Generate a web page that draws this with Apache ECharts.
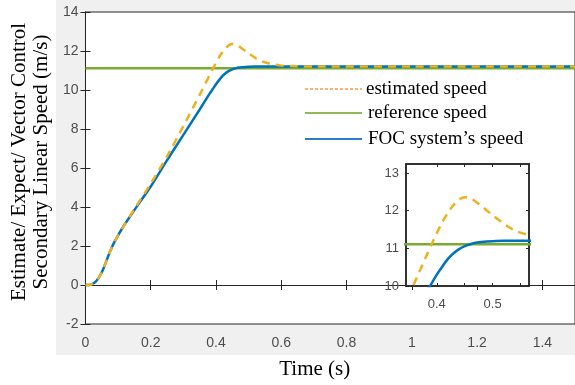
<!DOCTYPE html>
<html><head><meta charset="utf-8">
<script src="https://cdn.jsdelivr.net/npm/echarts@6/dist/echarts.min.js"></script>
<style>html,body{margin:0;padding:0;background:#fff}#c{width:575px;height:385px}</style>
</head><body><div id="c"></div>
<script>
const time = [0,0.01,0.02,0.03,0.04,0.05,0.06,0.07,0.08,0.09,0.10,0.12,0.15,0.20,0.25,0.30,0.35,0.38,0.39,0.40,0.41,0.42,0.43,0.44,0.45,0.46,0.47,0.48,0.50,0.52,0.54,0.56,0.58,0.60,0.65,0.70,1.00,1.50];
const focSpeed = [0,0,0.04,0.15,0.35,0.65,1.05,1.5,1.9,2.25,2.55,3.1,3.85,5.05,6.4,7.7,9.0,9.8,10.05,10.3,10.52,10.72,10.87,10.98,11.06,11.11,11.15,11.17,11.19,11.2,11.2,11.2,11.2,11.2,11.2,11.2,11.2,11.2];
const estSpeed = [0,0,0.04,0.15,0.35,0.65,1.05,1.5,1.9,2.25,2.55,3.1,3.9,5.2,6.6,8.15,9.75,10.75,11.08,11.4,11.7,11.95,12.15,12.3,12.36,12.33,12.24,12.12,11.88,11.65,11.47,11.37,11.3,11.25,11.22,11.2,11.2,11.2];
const refTime = [0, 1.5];
const refSpeed = [11.11, 11.11];
const seriesNames = ['estimated speed','reference speed','FOC system\u2019s speed'];
const xTicks = [0,0.2,0.4,0.6,0.8,1,1.2,1.4];
const yTicks = [-2,0,2,4,6,8,10,12,14];
const insetXTicks = [0.4,0.45,0.5,0.55];
const insetXLabels = [0.4,0.5];
const insetYTicks = [10,11,12,13];

const pair = (xs, ys) => xs.map((x,i)=>[x, ys[i]]);
const axisCol = '#262626', lblCol = '#4d4d4d';
const sans = 'Liberation Sans, Arial, sans-serif';
const serif = 'Liberation Serif, Times New Roman, serif';

function mkSeries(xi, yi, dz) {
  return [
    {name: seriesNames[1], type:'line', xAxisIndex:xi, yAxisIndex:yi, data: pair(refTime, refSpeed), symbol:'none', lineStyle:{color:'#77AC30', width:2.5}, z:2+dz},
    {name: seriesNames[2], type:'line', xAxisIndex:xi, yAxisIndex:yi, data: pair(time, focSpeed), symbol:'none', smooth:0.2, lineStyle:{color:'#0072BD', width:2.5}, z:3+dz},
    {name: seriesNames[0], type:'line', xAxisIndex:xi, yAxisIndex:yi, data: pair(time, estSpeed), symbol:'none', smooth:0.2, lineStyle:{color:'#EDB120', width:2.5, type:[8,6]}, z:4+dz}
  ];
}
const legendRows = [
  {y:89, tx:366, color:'#F59A4C', width:1.5, dash:[3,2]},
  {y:113, tx:368, color:'#8DBB55', width:2, dash:null},
  {y:139, tx:368, color:'#2E7BCF', width:2, dash:null}
];
const legendGraphics = [];
legendRows.forEach((r,i)=>{
  legendGraphics.push({type:'line', shape:{x1:305,y1:r.y,x2:362,y2:r.y}, style:{stroke:r.color, lineWidth:r.width, lineDash:r.dash}, z:20, silent:true});
  legendGraphics.push({type:'text', x:r.tx, y:r.y, style:{text:seriesNames[i], fill:'#000', font:'19px ' + serif, textVerticalAlign:'middle', textAlign:'left'}, z:20, silent:true});
});

const chart = echarts.init(document.getElementById('c'), null, {renderer:'canvas'});
chart.setOption({
  animation:false,
  backgroundColor:'#fff',
  graphic:[{type:'rect', shape:{x:56,y:0,width:519,height:355}, style:{fill:'#f0f0f0'}, z:-10, silent:true}, ...legendGraphics],
  grid:[
    {left:84, top:12, width:495, height:315, show:true, backgroundColor:'#fff', borderColor:axisCol, borderWidth:1},
    {left:406, top:164, width:123, height:122, show:true, backgroundColor:'#fff', borderColor:axisCol, borderWidth:1.5, z:10}
  ],
  xAxis:[
    {gridIndex:0, type:'value', min:0, max:1.5, interval:0.2, position:'bottom',
     name:'Time (s)', nameLocation:'middle', nameGap:35, nameTextStyle:{fontFamily:serif, fontSize:21, color:'#000', padding:[0,31,0,0]},
     axisLine:{lineStyle:{color:axisCol}}, axisTick:{inside:true, length:5, lineStyle:{color:axisCol}},
     axisLabel:{color:lblCol, fontFamily:sans, fontSize:14, margin:12, customValues:xTicks}, splitLine:{show:false}},
    {gridIndex:0, type:'value', min:0, max:1.5, interval:0.2, position:'top',
     axisLine:{lineStyle:{color:axisCol}}, axisTick:{inside:true, length:5, lineStyle:{color:axisCol}},
     axisLabel:{show:false}, splitLine:{show:false}},
    {gridIndex:1, type:'value', min:0.345, max:0.565, position:'bottom', z:10,
     axisLine:{lineStyle:{color:axisCol, width:1.5}}, axisTick:{inside:true, length:3, lineStyle:{color:axisCol}, customValues:insetXTicks},
     axisLabel:{color:lblCol, fontFamily:sans, fontSize:13, margin:12, customValues:insetXLabels}, splitLine:{show:false}},
    {gridIndex:1, type:'value', min:0.345, max:0.565, position:'top', z:10,
     axisLine:{lineStyle:{color:axisCol, width:1.5}}, axisTick:{inside:true, length:3, lineStyle:{color:axisCol}, customValues:insetXTicks},
     axisLabel:{show:false}, splitLine:{show:false}}
  ],
  yAxis:[
    {gridIndex:0, type:'value', min:-2, max:14, interval:2, position:'left',
     name:'Estimate/ Expect/ Vector Control\nSecondary Linear Speed (m/s)', nameLocation:'middle', nameRotate:90, nameGap:27,
     nameTextStyle:{fontFamily:serif, fontSize:21, color:'#000', lineHeight:22, padding:[0,0,0,12]},
     axisLine:{show:true, lineStyle:{color:axisCol}}, axisTick:{show:true, inside:true, length:5, lineStyle:{color:axisCol}},
     axisLabel:{color:lblCol, fontFamily:sans, fontSize:14, margin:7, customValues:yTicks}, splitLine:{show:false}},
    {gridIndex:0, type:'value', min:-2, max:14, interval:2, position:'right',
     axisLine:{show:true, lineStyle:{color:axisCol}}, axisTick:{show:true, inside:true, length:5, lineStyle:{color:axisCol}},
     axisLabel:{show:false}, splitLine:{show:false}},
    {gridIndex:1, type:'value', min:10, max:13.24, interval:1, position:'left', z:10,
     axisLine:{show:true, lineStyle:{color:axisCol, width:1.5}}, axisTick:{show:true, inside:true, length:3, lineStyle:{color:axisCol}, customValues:insetYTicks},
     axisLabel:{color:lblCol, fontFamily:sans, fontSize:13, margin:7, customValues:insetYTicks}, splitLine:{show:false}},
    {gridIndex:1, type:'value', min:10, max:13.24, interval:1, position:'right', z:10,
     axisLine:{show:true, lineStyle:{color:axisCol, width:1.5}}, axisTick:{show:true, inside:true, length:3, lineStyle:{color:axisCol}, customValues:insetYTicks},
     axisLabel:{show:false}, splitLine:{show:false}}
  ],
  series:[...mkSeries(0,0,0), ...mkSeries(2,2,10)]
});
</script></body></html>
